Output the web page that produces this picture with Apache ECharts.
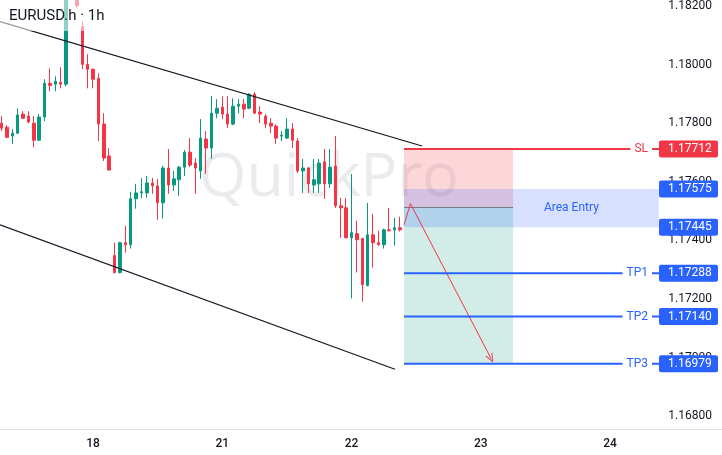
<!DOCTYPE html>
<html><head><meta charset="utf-8">
<script src="https://cdn.jsdelivr.net/npm/echarts@6/dist/echarts.min.js"></script>
<style>html,body{margin:0;padding:0;background:#fff}#c{width:722px;height:455px}</style>
</head><body><div id="c"></div>
<script>
// ---------- data ----------
const chartTitle = 'EURUSD.h · 1h';
const watermark = 'QuickPro';
const dayLabels = ['18', '21', '22', '23', '24'];   // day starts at hour 24, 48, 72, 96, 120
const firstHour = 7;                                 // first bar = 17th 07:00
const open = [
1.17800, 1.17786, 1.17756, 1.17766, 1.17831, 1.17824, 1.17800, 1.17742, 1.17821, 1.17936,
1.17933, 1.17940, 1.17933, 1.18249, 1.18283, 1.18130, 1.18001, 1.17984, 1.17953, 1.17797,
1.17688, 1.17348, 1.17290, 1.17392, 1.17385, 1.17542, 1.17562, 1.17562, 1.17596, 1.17586,
1.17528, 1.17647, 1.17589, 1.17607, 1.17650, 1.17701, 1.17664, 1.17637, 1.17746, 1.17715,
1.17834, 1.17855, 1.17831, 1.17797, 1.17858, 1.17865, 1.17851, 1.17899, 1.17838, 1.17824,
1.17800, 1.17790, 1.17756, 1.17749, 1.17780, 1.17739, 1.17637, 1.17647, 1.17589, 1.17593,
1.17668, 1.17593, 1.17654, 1.17518, 1.17511, 1.17409, 1.17423, 1.17406, 1.17246, 1.17419,
1.17392, 1.17385, 1.17436, 1.17436, 1.17443];
const close = [
1.17783, 1.17752, 1.17766, 1.17828, 1.17817, 1.17804, 1.17742, 1.17821, 1.17936, 1.17929,
1.17943, 1.17933, 1.18249, 1.18300, 1.18201, 1.18001, 1.17984, 1.17950, 1.17797, 1.17681,
1.17640, 1.17290, 1.17392, 1.17385, 1.17542, 1.17562, 1.17566, 1.17596, 1.17586, 1.17528,
1.17647, 1.17589, 1.17610, 1.17650, 1.17701, 1.17657, 1.17647, 1.17749, 1.17715, 1.17834,
1.17851, 1.17831, 1.17797, 1.17858, 1.17865, 1.17848, 1.17899, 1.17834, 1.17831, 1.17797,
1.17790, 1.17749, 1.17759, 1.17780, 1.17742, 1.17637, 1.17647, 1.17593, 1.17607, 1.17664,
1.17593, 1.17650, 1.17518, 1.17511, 1.17409, 1.17426, 1.17402, 1.17249, 1.17419, 1.17392,
1.17385, 1.17436, 1.17433, 1.17443, 1.17436];
const low = [
1.17773, 1.17749, 1.17729, 1.17763, 1.17814, 1.17800, 1.17718, 1.17739, 1.17807, 1.17909,
1.17909, 1.17919, 1.17926, 1.18242, 1.18195, 1.17984, 1.17919, 1.17919, 1.17739, 1.17671,
1.17638, 1.17287, 1.17287, 1.17358, 1.17372, 1.17508, 1.17545, 1.17545, 1.17559, 1.17470,
1.17474, 1.17559, 1.17569, 1.17552, 1.17620, 1.17650, 1.17559, 1.17610, 1.17627, 1.17678,
1.17817, 1.17814, 1.17783, 1.17793, 1.17834, 1.17817, 1.17848, 1.17831, 1.17800, 1.17783,
1.17766, 1.17729, 1.17739, 1.17746, 1.17715, 1.17630, 1.17562, 1.17562, 1.17562, 1.17562,
1.17542, 1.17579, 1.17511, 1.17409, 1.17406, 1.17202, 1.17290, 1.17191, 1.17243, 1.17307,
1.17382, 1.17372, 1.17430, 1.17382, 1.17430];
const high = [
1.17824, 1.17793, 1.17780, 1.17851, 1.17841, 1.17841, 1.17824, 1.17831, 1.17950, 1.17987,
1.17960, 1.17991, 1.18263, 1.18317, 1.18300, 1.18147, 1.18035, 1.17987, 1.17970, 1.17834,
1.17715, 1.17392, 1.17395, 1.17450, 1.17566, 1.17593, 1.17613, 1.17620, 1.17613, 1.17610,
1.17654, 1.17712, 1.17637, 1.17654, 1.17708, 1.17749, 1.17681, 1.17814, 1.17773, 1.17892,
1.17882, 1.17892, 1.17892, 1.17885, 1.17882, 1.17882, 1.17902, 1.17906, 1.17858, 1.17831,
1.17817, 1.17797, 1.17773, 1.17817, 1.17800, 1.17749, 1.17678, 1.17650, 1.17678, 1.17678,
1.17712, 1.17712, 1.17756, 1.17545, 1.17545, 1.17627, 1.17467, 1.17409, 1.17528, 1.17491,
1.17433, 1.17440, 1.17511, 1.17477, 1.17481];

const levelNames  = ['SL', 'TP1', 'TP2', 'TP3'];
const levelValues = [1.17712, 1.17288, 1.17140, 1.16979];
const entryZone   = [1.17575, 1.17445];    // Area Entry top / bottom
const entryPrice  = 1.17512;
const setupStart  = 81.75, setupEnd = 102, zoneEnd = 129.05;   // hour positions
const upperChannel = [[6.72, 1.18147], [85.09, 1.17722]];
const lowerChannel = [[6.72, 1.17453], [80.07, 1.16960]];
const arrowPath    = [[81.74, 1.17453], [82.95, 1.17525], [97.9, 1.16997]];

// ---------- chart ----------
const UP = '#089981', DOWN = '#f23645', BLUE = '#2962ff', RED = '#f23645';
const rows = open.map((o, i) => [firstHour + i, o, close[i], low[i], high[i]]);
const chart = echarts.init(document.getElementById('c'));
const FONT = 'Roboto';

const plainLine = (a, b, style) => [{coord: a, lineStyle: style}, {coord: b}];

chart.setOption({
  animation: false,
  backgroundColor: '#ffffff',
  textStyle: {fontFamily: FONT},
  title: {
    text: chartTitle, left: 0, top: 0, padding: [9, 8, 7, 9],
    backgroundColor: 'rgba(255,255,255,0.55)',
    textStyle: {fontSize: 15, fontWeight: 'normal', color: '#131722', fontFamily: FONT}
  },
  grid: {left: 0, right: 0, top: 0, bottom: 25.5},
  dataset: {dimensions: ['hour', 'open', 'close', 'low', 'high'], source: rows},
  xAxis: {
    type: 'value', min: 6.72, max: 140.8, minInterval: 24, maxInterval: 24,
    axisLine: {show: true, lineStyle: {color: '#e0e3eb', width: 1}},
    axisTick: {show: false}, splitLine: {show: false},
    axisLabel: {
      showMinLabel: false, showMaxLabel: false, margin: 8,
      color: '#131722', fontSize: 12, fontWeight: 500, fontFamily: FONT,
      formatter: v => (v % 24 === 0 && dayLabels[v / 24 - 1]) || ''
    }
  },
  yAxis: {
    type: 'value', position: 'right', scale: true,
    min: 1.167544, max: 1.182153, minInterval: 0.002, maxInterval: 0.002,
    axisLine: {show: false}, axisTick: {show: false}, splitLine: {show: false},
    axisLabel: {
      inside: true, margin: 10, showMinLabel: false, showMaxLabel: false,
      color: '#131722', fontSize: 12, fontFamily: FONT,
      formatter: v => v.toFixed(5)
    }
  },
  series: [{
    type: 'candlestick',
    encode: {x: 'hour', y: ['open', 'close', 'low', 'high']},
    barWidth: 3,
    clip: true,
    itemStyle: {color: UP, color0: DOWN, borderColor: UP, borderColor0: DOWN, borderWidth: 1},
    markArea: {
      silent: true,
      data: [
        [{coord: [setupStart, levelValues[0]], itemStyle: {color: 'rgba(242,54,69,0.2)'}},
         {coord: [setupEnd, entryPrice]}],
        [{coord: [setupStart, entryPrice], itemStyle: {color: 'rgba(8,153,129,0.18)'}},
         {coord: [setupEnd, levelValues[3]]}],
        [{coord: [setupStart, entryZone[0]], itemStyle: {color: 'rgba(41,98,255,0.19)'},
          label: {show: true, position: 'inside', offset: [40, 0], formatter: 'Area Entry',
                  color: BLUE, fontSize: 12, fontFamily: FONT}},
         {coord: [zoneEnd, entryZone[1]]}]
      ]
    },
    markLine: {
      silent: true, symbol: ['none', 'none'], label: {show: false},
      data: [
        plainLine(upperChannel[0], upperChannel[1], {color: '#131722', width: 1.2, type: 'solid'}),
        plainLine(lowerChannel[0], lowerChannel[1], {color: '#131722', width: 1.2, type: 'solid'}),
        plainLine([setupStart, entryPrice], [setupEnd, entryPrice], {color: '#787b86', width: 1, type: 'solid'}),
        plainLine(arrowPath[0], arrowPath[1], {color: RED, width: 1, type: 'solid'}),
        [{coord: arrowPath[1], lineStyle: {color: RED, width: 1, type: 'solid'}},
         {coord: arrowPath[2], symbol: 'path://M0,10 L5,0 L10,10 L8.7,10 L5,2.6 L1.3,10 Z', symbolSize: [8, 9]}]
      ]
    }
  }]
});

// ---------- overlay: level lines, labels and price tags ----------
const px = (x, y) => chart.convertToPixel({gridIndex: 0}, [x, y]);
const g = [];
g.push({type: 'text', x: 329, y: 179, z: 0, silent: true,
  style: {text: watermark, font: '61px "Open Sans"', fill: 'rgba(120,123,134,0.15)',
          align: 'center', verticalAlign: 'middle'}});
const x0 = px(setupStart, levelValues[0])[0];
const tagX = 659, tagW = 59, tagH = 17;
levelNames.forEach((name, k) => {
  const v = levelValues[k];
  const color = k === 0 ? RED : BLUE;
  const y = px(setupStart, v)[1];
  g.push({type: 'line', z: 50, silent: true, shape: {x1: x0, y1: y, x2: tagX, y2: y},
          style: {stroke: color, lineWidth: 2}});
  g.push({type: 'text', z: 51, silent: true, x: 652, y: y,
          style: {text: name, fill: color, font: '12px ' + FONT, align: 'right', verticalAlign: 'middle',
                  backgroundColor: '#ffffff', padding: [2, 4]}});
});
const tags = [[levelValues[0], RED], [entryZone[0], BLUE], [entryZone[1], BLUE],
              [levelValues[1], BLUE], [levelValues[2], BLUE], [levelValues[3], BLUE]];
tags.forEach(([v, color]) => {
  const y = px(setupStart, v)[1];
  g.push({type: 'rect', z: 60, silent: true, shape: {x: tagX, y: y - tagH / 2, width: tagW, height: tagH, r: 2},
          style: {fill: color}});
  g.push({type: 'text', z: 61, silent: true, x: 668, y: y,
          style: {text: v.toFixed(5), fill: '#ffffff', font: '12px ' + FONT, align: 'left', verticalAlign: 'middle'}});
});
chart.setOption({graphic: {elements: g}});
</script>
</body></html>
